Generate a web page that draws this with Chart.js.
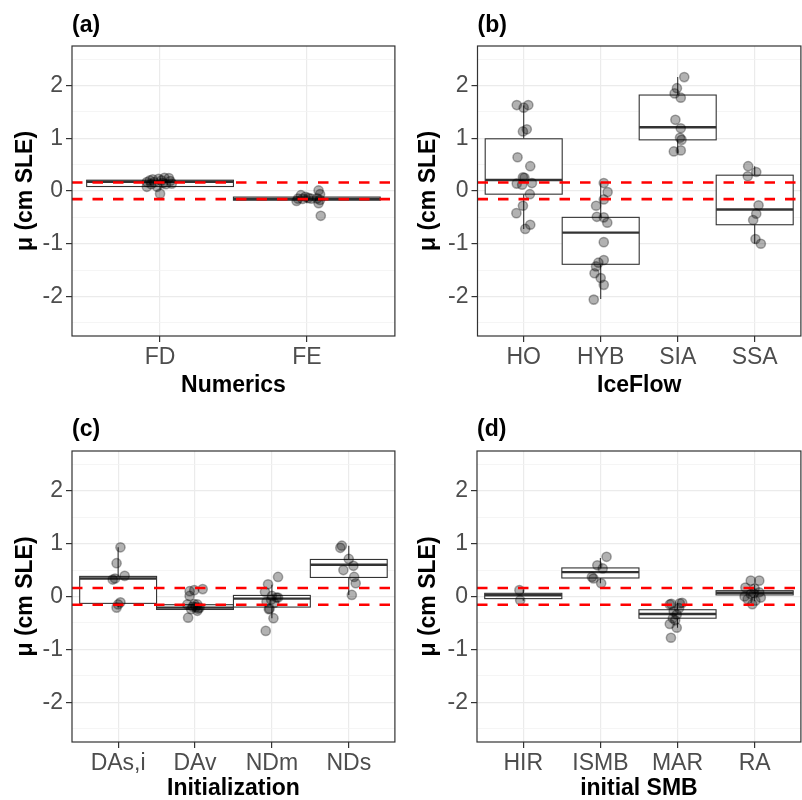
<!DOCTYPE html>
<html lang="en">
<head>
<meta charset="UTF-8">
<title>Boxplots</title>
<script src="https://cdn.jsdelivr.net/npm/chart.js"></script>
<style>
  html, body { margin: 0; padding: 0; background: #fff; }
  #wrap { position: relative; width: 802px; height: 800px; overflow: hidden; background: #fff; }
  .panel { position: absolute; }
</style>
</head>
<body>
<div id="wrap">
  <canvas id="chartA" class="panel"></canvas>
  <canvas id="chartB" class="panel"></canvas>
  <canvas id="chartC" class="panel"></canvas>
  <canvas id="chartD" class="panel"></canvas>
</div>
<script>
// ---- data ----
const refLines = [0.16, -0.155];
const yTicks = [-2.5, -2, -1.5, -1, -0.5, 0, 0.5, 1, 1.5, 2, 2.5];

// (a) Numerics
const numCats = ['FD', 'FE'];
const numQ1  = [0.085, -0.175];
const numMed = [0.175, -0.15];
const numQ3  = [0.205, -0.115];
const numLo  = [0.03, -0.23];
const numHi  = [0.25, -0.06];
const numPtX = [0.91, 0.91, 0.93, 0.94, 0.96, 0.98, 0.99, 1.0, 1.02, 1.03, 1.04, 1.06, 1.07, 1.08, 0.95, 1.01,
                1.93, 1.94, 1.96, 1.97, 1.99, 2.01, 2.03, 2.08, 2.09, 2.08, 2.095, 2.09, 2.07];
const numPtY = [0.08, 0.17, 0.20, 0.13, 0.17, 0.08, 0.23, -0.05, 0.15, 0.25, 0.13, 0.245, 0.19, 0.14, 0.22, 0.20,
                -0.19, -0.145, -0.08, -0.15, -0.11, -0.13, -0.145, 0.01, -0.06, -0.23, -0.47, -0.17, -0.14];

// (b) IceFlow
const iceCats = ['HO', 'HYB', 'SIA', 'SSA'];
const iceQ1  = [-0.06, -1.39, 0.97, -0.64];
const iceMed = [0.21, -0.79, 1.21, -0.35];
const iceQ3  = [0.99, -0.50, 1.82, 0.30];
const iceLo  = [-0.72, -2.05, 0.72, -1.0];
const iceHi  = [1.62, 0.16, 2.16, 0.47];
const icePtX = [0.91, 1.06, 1.0, 0.99, 1.04, 0.92, 1.085, 0.99, 1.01, 0.91, 1.107, 0.98, 1.08, 0.99, 0.905, 1.085, 1.02,
                2.04, 2.09, 2.04, 1.94, 1.95, 2.04, 2.085, 2.04, 2.04, 1.97, 1.94, 1.92, 2.0, 2.04, 1.91,
                3.085, 2.99, 2.96, 3.04, 2.97, 3.04, 3.03, 3.05, 2.95, 3.04,
                3.915, 3.91, 4.02, 4.05, 4.02, 3.98, 4.01, 4.08];
const icePtY = [1.63, 1.63, 1.58, 1.13, 1.17, 0.64, 0.47, 0.26, 0.25, 0.14, 0.15, 0.12, -0.06, -0.28, -0.42, -0.64, -0.72,
                0.15, -0.02, -0.16, -0.28, -0.49, -0.50, -0.60, -0.97, -1.31, -1.36, -1.43, -1.56, -1.65, -1.78, -2.06,
                2.16, 1.95, 1.85, 1.77, 1.35, 1.19, 1.01, 0.97, 0.75, 0.77,
                0.47, 0.28, 0.36, -0.27, -0.43, -0.55, -0.91, -1.0];

// (c) Initialization
const iniCats = ['DAs,i', 'DAv', 'NDm', 'NDs'];
const iniQ1  = [-0.13, -0.245, -0.20, 0.36];
const iniMed = [0.34, -0.21, -0.04, 0.60];
const iniQ3  = [0.38, -0.155, 0.02, 0.70];
const iniLo  = [-0.21, -0.29, -0.41, 0.03];
const iniHi  = [0.93, -0.12, 0.22, 0.96];
const iniPtX = [1.03, 0.98, 1.085, 0.93, 0.96, 1.03, 1.0, 0.98,
                1.93, 1.99, 2.10, 1.93, 1.90, 1.99, 2.03, 2.06, 1.95, 2.03, 1.91, 2.01, 1.97, 2.04,
                3.08, 2.95, 2.91, 3.0, 3.06, 3.08, 2.93, 3.03, 2.96, 2.97, 3.02, 2.92, 2.99,
                3.91, 3.89, 4.0, 4.06, 3.93, 4.07, 4.09, 4.04];
const iniPtY = [0.93, 0.63, 0.39, 0.32, 0.34, -0.11, -0.15, -0.21,
                0.10, 0.12, 0.14, 0.01, -0.15, -0.145, -0.15, -0.21, -0.24, -0.27, -0.40, -0.20, -0.19, -0.23,
                0.37, 0.23, 0.09, 0.01, -0.02, -0.02, -0.10, -0.12, -0.24, -0.23, -0.41, -0.65, -0.06,
                0.96, 0.92, 0.71, 0.58, 0.50, 0.37, 0.25, 0.03];

// (d) initial SMB
const smbCats = ['HIR', 'ISMB', 'MAR', 'RA'];
const smbQ1  = [-0.04, 0.35, -0.41, 0.03];
const smbMed = [0.025, 0.46, -0.33, 0.07];
const smbQ3  = [0.06, 0.54, -0.25, 0.11];
const smbLo  = [-0.08, 0.25, -0.59, -0.09];
const smbHi  = [0.13, 0.73, -0.12, 0.22];
const smbPtX = [0.95, 0.96,
                2.08, 1.96, 2.03, 1.89, 1.91, 2.01,
                2.90, 2.92, 3.03, 3.06, 3.02, 2.95, 2.99, 2.94, 2.90, 2.99, 2.915, 2.97,
                3.95, 4.06, 3.88, 4.0, 3.95, 3.91, 4.01, 4.08, 3.97, 3.87, 4.06, 3.99];
const smbPtY = [0.12, -0.07,
                0.75, 0.59, 0.53, 0.37, 0.34, 0.25,
                -0.15, -0.14, -0.13, -0.12, -0.22, -0.28, -0.34, -0.41, -0.52, -0.59, -0.78, -0.45,
                0.30, 0.30, 0.17, 0.15, 0.045, -0.05, -0.08, -0.02, -0.145, 0.0, 0.08, 0.06];

// ---- drawing ----
const FONT = "'Liberation Sans', Arial, sans-serif";

function boxLayer(q1, med, q3, lo, hi) {
    return {
        id: 'boxLayer',
        beforeDatasetsDraw(chart) {
            const {ctx, chartArea: a, scales: {x, y}} = chart;
            ctx.save();
            ctx.beginPath();
            ctx.rect(a.left, a.top, a.width, a.height);
            ctx.clip();
            ctx.strokeStyle = '#333333';
            for (let i = 0; i < q1.length; i++) {
                const cx = x.getPixelForValue(i + 1);
                const l = x.getPixelForValue(i + 0.5);
                const r = x.getPixelForValue(i + 1.5);
                const yT = y.getPixelForValue(q3[i]);
                const yB = y.getPixelForValue(q1[i]);
                // whiskers
                ctx.lineWidth = 1.1;
                ctx.beginPath();
                ctx.moveTo(cx, y.getPixelForValue(hi[i]));
                ctx.lineTo(cx, yT);
                ctx.moveTo(cx, yB);
                ctx.lineTo(cx, y.getPixelForValue(lo[i]));
                ctx.stroke();
                // box
                ctx.fillStyle = '#ffffff';
                ctx.fillRect(l, yT, r - l, yB - yT);
                ctx.strokeRect(l, yT, r - l, yB - yT);
                // median
                ctx.lineWidth = 2.4;
                const ym = y.getPixelForValue(med[i]);
                ctx.beginPath();
                ctx.moveTo(l, ym);
                ctx.lineTo(r, ym);
                ctx.stroke();
            }
            ctx.restore();
        },
        afterDatasetsDraw(chart) {
            const {ctx, chartArea: a, scales: {y}} = chart;
            ctx.save();
            // red reference lines
            ctx.strokeStyle = '#ff0000';
            ctx.lineWidth = 2.6;
            ctx.setLineDash([10.5, 10]);
            refLines.forEach(v => {
                const yy = y.getPixelForValue(v);
                ctx.beginPath();
                ctx.moveTo(a.left, yy);
                ctx.lineTo(a.right, yy);
                ctx.stroke();
            });
            // panel border
            ctx.setLineDash([]);
            ctx.strokeStyle = '#333333';
            ctx.lineWidth = 1.2;
            ctx.strokeRect(a.left, a.top, a.width, a.height);
            ctx.restore();
        }
    };
}

function makePanel(id, g, label, xTitle, cats, q1, med, q3, lo, hi, ptX, ptY) {
    const cv = document.getElementById(id);
    cv.width = g.w;
    cv.height = g.h;
    cv.style.left = g.left + 'px';
    cv.style.top = g.top + 'px';

    const xAxisH = 70;
    const titleTop = g.titleC - g.top - 13.8;
    const titleBottom = g.plotT - g.top - 27.6 - titleTop;

    const isMajor = c => c.tick && Number.isInteger(c.tick.value);

    return new Chart(cv, {
        type: 'scatter',
        data: {
            datasets: [{
                data: ptX.map((v, i) => ({x: v, y: ptY[i]})),
                pointRadius: 4.6,
                backgroundColor: 'rgba(0,0,0,0.3)',
                borderColor: 'rgba(0,0,0,0.33)',
                borderWidth: 1.5
            }]
        },
        options: {
            responsive: false,
            animation: false,
            events: [],
            layout: { padding: { left: 0, top: 0, right: g.left + g.w - g.plotR, bottom: g.top + g.h - g.plotB - xAxisH } },
            plugins: {
                legend: { display: false },
                tooltip: { enabled: false },
                title: {
                    display: true,
                    text: label,
                    align: 'start',
                    fullSize: false,
                    color: '#000000',
                    font: { family: FONT, size: 23, weight: 'bold' },
                    padding: { top: titleTop, bottom: titleBottom }
                }
            },
            scales: {
                x: {
                    type: 'linear',
                    min: 0.4,
                    max: cats.length + 0.6,
                    afterBuildTicks: s => { s.ticks = cats.map((c, i) => ({value: i + 1})); },
                    afterFit: s => { s.height = xAxisH; },
                    ticks: {
                        autoSkip: false,
                        maxRotation: 0,
                        padding: 2,
                        color: '#4d4d4d',
                        font: { family: FONT, size: 23 },
                        callback: v => cats[Math.round(v) - 1]
                    },
                    grid: {
                        color: '#ebebeb',
                        lineWidth: 1.2,
                        tickColor: '#333333',
                        tickWidth: 1.2,
                        tickLength: 6
                    },
                    border: { display: false },
                    title: {
                        display: true,
                        text: xTitle,
                        color: '#000000',
                        font: { family: FONT, size: 23, weight: 'bold' },
                        padding: { top: 0, bottom: g.plotB + xAxisH - 13.8 - g.xTitleC }
                    }
                },
                y: {
                    min: -2.75,
                    max: 2.75,
                    afterBuildTicks: s => { s.ticks = yTicks.map(v => ({value: v})); },
                    afterFit: s => { s.width = g.plotL - g.left; },
                    ticks: {
                        autoSkip: false,
                        padding: 3,
                        color: '#4d4d4d',
                        font: { family: FONT, size: 23 },
                        callback: v => Number.isInteger(v) ? String(v) : ''
                    },
                    grid: {
                        color: c => isMajor(c) ? '#ebebeb' : '#f3f3f3',
                        lineWidth: c => isMajor(c) ? 1.2 : 0.8,
                        tickColor: c => isMajor(c) ? '#333333' : 'rgba(0,0,0,0)',
                        tickWidth: 1.2,
                        tickLength: 6
                    },
                    border: { display: false },
                    title: {
                        display: true,
                        text: 'μ (cm SLE)',
                        color: '#000000',
                        font: { family: FONT, size: 23, weight: 'bold' },
                        padding: { top: g.yTitleC - g.left - 13.8, bottom: 0 }
                    }
                }
            }
        },
        plugins: [boxLayer(q1, med, q3, lo, hi)]
    });
}

const geomA = {left: 0, top: 0, w: 401, h: 420, plotL: 72, plotR: 399, plotT: 46, plotB: 336, titleC: 26, yTitleC: 25.8, xTitleC: 385.5};
const geomB = {left: 401, top: 0, w: 406, h: 420, plotL: 477.5, plotR: 805, plotT: 46, plotB: 336, titleC: 26, yTitleC: 428.7, xTitleC: 385.5};
const geomC = {left: 0, top: 400, w: 401, h: 420, plotL: 72, plotR: 399, plotT: 451, plotB: 742, titleC: 430, yTitleC: 26, xTitleC: 789};
const geomD = {left: 401, top: 400, w: 406, h: 420, plotL: 477, plotR: 805, plotT: 451, plotB: 742, titleC: 430, yTitleC: 428.7, xTitleC: 789};

makePanel('chartA', geomA, '(a)', 'Numerics', numCats, numQ1, numMed, numQ3, numLo, numHi, numPtX, numPtY);
makePanel('chartB', geomB, '(b)', 'IceFlow', iceCats, iceQ1, iceMed, iceQ3, iceLo, iceHi, icePtX, icePtY);
makePanel('chartC', geomC, '(c)', 'Initialization', iniCats, iniQ1, iniMed, iniQ3, iniLo, iniHi, iniPtX, iniPtY);
makePanel('chartD', geomD, '(d)', 'initial SMB', smbCats, smbQ1, smbMed, smbQ3, smbLo, smbHi, smbPtX, smbPtY);
</script>
</body>
</html>
